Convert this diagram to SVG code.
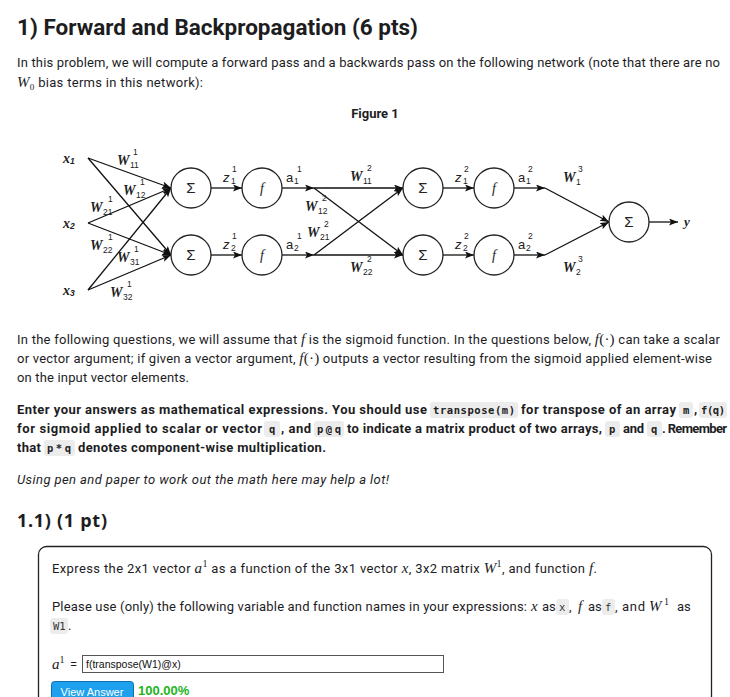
<svg xmlns="http://www.w3.org/2000/svg" width="730" height="697" viewBox="0 0 730 697">
<defs>
<marker id="ah" markerUnits="userSpaceOnUse" markerWidth="10" markerHeight="8" refX="9" refY="3.5" orient="auto">
<path d="M0,0 L9,3.5 L0,7 L2,3.5 z" fill="#111"/>
</marker>
<style>
.t{font-family:Roboto,"Liberation Sans",sans-serif;font-size:13px;fill:#1d1d1f}
.b{font-weight:bold}
.m{font-family:"Liberation Serif",serif;font-style:italic;font-size:15px}
.mu{font-family:"Liberation Serif",serif}
.code{font-family:"DejaVu Sans Mono",monospace;font-size:10.5px;fill:#333}
.cb{font-weight:bold;fill:#222}
.cbg{fill:#ececec}
.e{stroke:#111;stroke-width:1.3;fill:none;marker-end:url(#ah)}
.n{fill:#fff;stroke:#222;stroke-width:1.3}
.fl{font-family:"Liberation Serif",serif;font-style:italic;font-weight:bold;font-size:14px;fill:#222}
.fs{font-family:"Liberation Sans",sans-serif;font-size:8.5px;fill:#222}
.sig{font-family:"Liberation Sans",sans-serif;font-size:15px;fill:#222;text-anchor:middle}
.ff{font-family:"Liberation Serif",serif;font-style:italic;font-size:14px;fill:#222;text-anchor:middle}
.al{font-family:"Liberation Sans",sans-serif;font-size:13px;fill:#222}
</style>
</defs>
<rect width="730" height="697" fill="#fff"/>

<text class="t b" x="17" y="35" style="font-size:22px" textLength="401" lengthAdjust="spacingAndGlyphs">1) Forward and Backpropagation (6 pts)</text>
<text class="t" x="17" y="67" textLength="703">In this problem, we will compute a forward pass and a backwards pass on the following network (note that there are no</text>
<text class="t" x="17" y="87" textLength="186"><tspan class="m">W</tspan><tspan class="mu" style="font-size:9px" dy="3">0</tspan><tspan dy="-3"> bias terms in this network):</tspan></text>
<text class="t b" x="375" y="118" text-anchor="middle">Figure 1</text>

<g id="connectors">
<line class="e" x1="88" y1="158" x2="171" y2="188"/>
<line class="e" x1="88" y1="158" x2="171" y2="255"/>
<line class="e" x1="88" y1="223" x2="171" y2="188"/>
<line class="e" x1="88" y1="223" x2="171" y2="255"/>
<line class="e" x1="88" y1="290" x2="171" y2="188"/>
<line class="e" x1="88" y1="290" x2="171" y2="255"/>
<line class="e" x1="211" y1="188" x2="242" y2="188"/>
<line class="e" x1="211" y1="255" x2="242" y2="255"/>
<line class="e" x1="282" y1="188" x2="314" y2="188"/>
<line class="e" x1="282" y1="255" x2="314" y2="255"/>
<line class="e" x1="314" y1="188" x2="403" y2="188"/>
<line class="e" x1="314" y1="188" x2="403" y2="255"/>
<line class="e" x1="314" y1="255" x2="403" y2="188"/>
<line class="e" x1="314" y1="255" x2="403" y2="255"/>
<line class="e" x1="443" y1="188" x2="474" y2="188"/>
<line class="e" x1="443" y1="255" x2="474" y2="255"/>
<line class="e" x1="514" y1="188" x2="545" y2="188"/>
<line class="e" x1="514" y1="255" x2="545" y2="255"/>
<line class="e" x1="545" y1="188" x2="609" y2="222"/>
<line class="e" x1="545" y1="255" x2="609" y2="222"/>
<line class="e" x1="649" y1="222" x2="678" y2="222"/>
</g>

<g id="x1"><text class="fl" x="63" y="163">x<tspan class="fs" dy="1">1</tspan></text></g>
<g id="x2"><text class="fl" x="63" y="228">x<tspan class="fs" dy="1">2</tspan></text></g>
<g id="x3"><text class="fl" x="63" y="295">x<tspan class="fs" dy="1">3</tspan></text></g>

<g id="sum1"><circle class="n" cx="191" cy="188" r="20"/><text class="sig" x="191" y="193">Σ</text></g>
<g id="sum2"><circle class="n" cx="191" cy="255" r="20"/><text class="sig" x="191" y="260">Σ</text></g>
<g id="f1"><circle class="n" cx="262" cy="188" r="20"/><text class="ff" x="262" y="193">f</text></g>
<g id="f2"><circle class="n" cx="262" cy="255" r="20"/><text class="ff" x="262" y="260">f</text></g>
<g id="sum3"><circle class="n" cx="423" cy="188" r="20"/><text class="sig" x="423" y="193">Σ</text></g>
<g id="sum4"><circle class="n" cx="423" cy="255" r="20"/><text class="sig" x="423" y="260">Σ</text></g>
<g id="f3"><circle class="n" cx="494" cy="188" r="20"/><text class="ff" x="494" y="193">f</text></g>
<g id="f4"><circle class="n" cx="494" cy="255" r="20"/><text class="ff" x="494" y="260">f</text></g>
<g id="sum5"><circle class="n" cx="629" cy="222" r="20"/><text class="sig" x="629" y="227">Σ</text></g>
<g id="y"><text class="fl" x="684" y="226" style="font-size:13px">y</text></g>

<g id="labels">
<text class="fl" x="117" y="165">W</text><text class="fs" x="130" y="168">11</text><text class="fs" x="133" y="155">1</text>
<text class="fl" x="123" y="195">W</text><text class="fs" x="136" y="198">12</text><text class="fs" x="140" y="185">1</text>
<text class="fl" x="90" y="212">W</text><text class="fs" x="103" y="215">21</text><text class="fs" x="108" y="202">1</text>
<text class="fl" x="90" y="250">W</text><text class="fs" x="103" y="253">22</text><text class="fs" x="108" y="240">1</text>
<text class="fl" x="117" y="262">W</text><text class="fs" x="130" y="265">31</text><text class="fs" x="134" y="252">1</text>
<text class="fl" x="110" y="297">W</text><text class="fs" x="123" y="300">32</text><text class="fs" x="127" y="287">1</text>

<text class="al" x="223" y="182" style="font-style:italic">z</text><text class="fs" x="231" y="184">1</text><text class="fs" x="232" y="172">1</text>
<text class="al" x="223" y="249" style="font-style:italic">z</text><text class="fs" x="231" y="251">2</text><text class="fs" x="232" y="239">1</text>
<text class="al" x="286" y="182">a</text><text class="fs" x="294" y="184">1</text><text class="fs" x="297" y="172">1</text>
<text class="al" x="286" y="249">a</text><text class="fs" x="294" y="251">2</text><text class="fs" x="297" y="239">1</text>

<text class="fl" x="350" y="181">W</text><text class="fs" x="363" y="184">11</text><text class="fs" x="367" y="171">2</text>
<text class="fl" x="305" y="211">W</text><text class="fs" x="318" y="214">12</text><text class="fs" x="322" y="201">2</text>
<text class="fl" x="307" y="237">W</text><text class="fs" x="320" y="240">21</text><text class="fs" x="324" y="227">2</text>
<text class="fl" x="350" y="272">W</text><text class="fs" x="363" y="275">22</text><text class="fs" x="367" y="262">2</text>

<text class="al" x="455" y="182" style="font-style:italic">z</text><text class="fs" x="463" y="184">1</text><text class="fs" x="464" y="172">2</text>
<text class="al" x="455" y="249" style="font-style:italic">z</text><text class="fs" x="463" y="251">2</text><text class="fs" x="464" y="239">2</text>
<text class="al" x="518" y="182">a</text><text class="fs" x="526" y="184">1</text><text class="fs" x="528" y="172">2</text>
<text class="al" x="518" y="249">a</text><text class="fs" x="526" y="251">2</text><text class="fs" x="528" y="239">2</text>

<text class="fl" x="563" y="182">W</text><text class="fs" x="576" y="185">1</text><text class="fs" x="578" y="172">3</text>
<text class="fl" x="563" y="272">W</text><text class="fs" x="576" y="275">2</text><text class="fs" x="578" y="262">3</text>
</g>

<text class="t" x="17" y="344" textLength="703">In the following questions, we will assume that <tspan class="m">f</tspan> is the sigmoid function. In the questions below, <tspan class="m">f</tspan><tspan class="mu" style="font-size:15px">(·)</tspan> can take a scalar</text>
<text class="t" x="17" y="363" textLength="695">or vector argument; if given a vector argument, <tspan class="m">f</tspan><tspan class="mu" style="font-size:15px">(·)</tspan> outputs a vector resulting from the sigmoid applied element-wise</text>
<text class="t" x="17" y="382" textLength="172">on the input vector elements.</text>

<g id="bold-para">
<rect class="cbg" x="430" y="402" width="88" height="16" rx="3"/>
<rect class="cbg" x="679" y="402" width="14" height="16" rx="3"/>
<rect class="cbg" x="699" y="402" width="28" height="16" rx="3"/>
<rect class="cbg" x="264" y="421" width="16" height="16" rx="3"/>
<rect class="cbg" x="314" y="421" width="30" height="16" rx="3"/>
<rect class="cbg" x="605" y="421" width="15" height="16" rx="3"/>
<rect class="cbg" x="647" y="421" width="15" height="16" rx="3"/>
<rect class="cbg" x="44" y="440" width="31" height="16" rx="3"/>
<text class="t b" x="17" y="414" textLength="410">Enter your answers as mathematical expressions. You should use</text>
<text class="code cb" x="433" y="414" textLength="82">transpose(m)</text>
<text class="t b" x="521" y="414" textLength="155">for transpose of an array</text>
<text class="code cb" x="683" y="414">m</text>
<text class="t b" x="694" y="414">,</text>
<text class="code cb" x="701" y="414" textLength="24">f(q)</text>
<text class="t b" x="17" y="433" textLength="245">for sigmoid applied to scalar or vector</text>
<text class="code cb" x="269" y="433">q</text>
<text class="t b" x="281" y="433" textLength="30">, and</text>
<text class="code cb" x="317" y="433" textLength="24">p@q</text>
<text class="t b" x="347" y="433" textLength="255">to indicate a matrix product of two arrays,</text>
<text class="code cb" x="609" y="433">p</text>
<text class="t b" x="623" y="433" textLength="21">and</text>
<text class="code cb" x="651" y="433">q</text>
<text class="t b" x="662" y="433" textLength="65">. Remember</text>
<text class="t b" x="17" y="452" textLength="24">that</text>
<text class="code cb" x="47" y="452" textLength="24">p*q</text>
<text class="t b" x="78" y="452" textLength="248">denotes component-wise multiplication.</text>
</g>
<text class="t" x="17" y="484" font-style="italic" textLength="372">Using pen and paper to work out the math here may help a lot!</text>

<text x="17" y="527" textLength="90" style="font-family:'Open Sans',sans-serif;font-weight:bold;font-size:18px;fill:#1d1d1f">1.1) (1 pt)</text>

<rect x="38.5" y="546.5" width="673" height="170" rx="8" fill="none" stroke="#222" stroke-width="1.3"/>
<text class="t" x="52" y="573" textLength="545">Express the 2x1 vector <tspan class="m">a</tspan><tspan class="mu" style="font-size:10px" dy="-6">1</tspan><tspan dy="6"> as a function of the 3x1 vector </tspan><tspan class="m">x</tspan>, 3x2 matrix <tspan class="m">W</tspan><tspan class="mu" style="font-size:10px" dy="-6">1</tspan><tspan dy="6">, and function </tspan><tspan class="m">f</tspan>.</text>

<rect class="cbg" x="556" y="599" width="13" height="16" rx="3"/>
<rect class="cbg" x="602" y="599" width="13" height="16" rx="3"/>
<text class="t" x="52" y="611" textLength="475">Please use (only) the following variable and function names in your expressions:</text>
<text class="m" x="531" y="611" style="fill:#1d1d1f">x</text>
<text class="t" x="542" y="611">as</text>
<text class="code" x="559" y="611">x</text>
<text class="t" x="569" y="611">,</text>
<text class="m" x="578" y="611" style="fill:#1d1d1f">f</text>
<text class="t" x="588" y="611">as</text>
<text class="code" x="605" y="611">f</text>
<text class="t" x="615" y="611" textLength="30">, and</text>
<text class="m" x="649" y="611" style="fill:#1d1d1f">W</text>
<text class="mu" x="664" y="605" style="font-size:10px;fill:#1d1d1f">1</text>
<text class="t" x="677" y="611">as</text>
<rect class="cbg" x="50" y="618" width="18" height="16" rx="3"/>
<text class="code" x="53" y="630">W1</text>
<text class="t" x="68" y="630">.</text>

<text class="t" x="52" y="669"><tspan class="m">a</tspan><tspan class="mu" style="font-size:10px" dy="-6">1</tspan><tspan dy="6" x="70">=</tspan></text>
<rect x="82.5" y="655.5" width="361" height="17" fill="#fff" stroke="#555" stroke-width="1"/>
<text x="86" y="668" style="font-family:'Liberation Sans',sans-serif;font-size:10.5px;fill:#111">f(transpose(W1)@x)</text>
<rect x="51.5" y="681.5" width="82" height="22" rx="3" fill="#1da1ee" stroke="#0b70b0" stroke-width="1"/>
<text x="92" y="696" text-anchor="middle" style="font-family:'Liberation Sans',sans-serif;font-size:11px;fill:#fff">View Answer</text>
<text x="138" y="695" style="font-family:'Liberation Sans',sans-serif;font-weight:bold;font-size:13px;fill:#22b422">100.00%</text>
</svg>
